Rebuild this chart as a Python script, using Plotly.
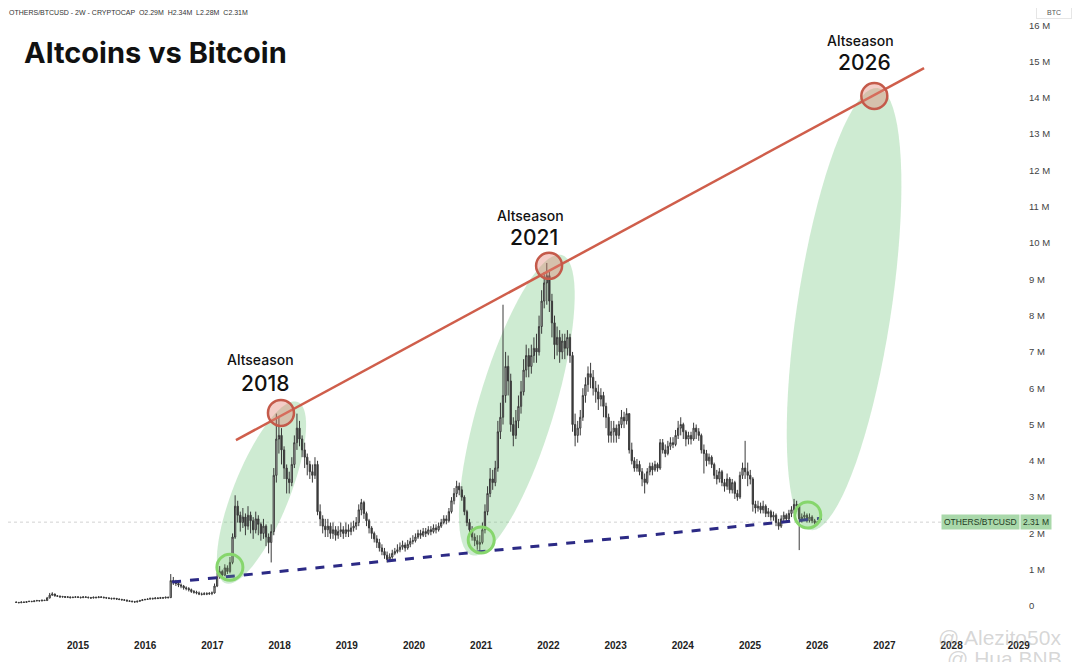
import numpy as np
import plotly.graph_objects as go

# axis ticks
year_ticks = list(range(2015, 2030))
year_labels = [str(y) for y in year_ticks]
price_ticks = list(range(0, 17))
price_labels = ["0"] + [f"{v} M" for v in range(1, 17)]

# OTHERS/BTCUSD, 2W candles, values in millions
start_year = 2014.08
step = 14 / 365.25
first_open = 0.11

close_2014 = [0.10, 0.09, 0.11, 0.10, 0.12, 0.13, 0.12, 0.14, 0.15, 0.14, 0.16, 0.15, 0.22, 0.30, 0.33, 0.28, 0.27, 0.25, 0.26, 0.24, 0.25, 0.23, 0.24, 0.25]
high_2014 = [0.12, 0.11, 0.12, 0.12, 0.13, 0.14, 0.14, 0.15, 0.17, 0.16, 0.17, 0.17, 0.25, 0.36, 0.38, 0.34, 0.30, 0.29, 0.28, 0.27, 0.27, 0.26, 0.26, 0.27]
low_2014 = [0.09, 0.08, 0.08, 0.09, 0.09, 0.11, 0.11, 0.11, 0.13, 0.13, 0.13, 0.14, 0.14, 0.21, 0.28, 0.26, 0.25, 0.23, 0.23, 0.22, 0.22, 0.21, 0.22, 0.22]

close_2015 = [0.24, 0.23, 0.25, 0.24, 0.23, 0.22, 0.24, 0.23, 0.25, 0.24, 0.23, 0.22, 0.21, 0.20, 0.21, 0.19, 0.18, 0.17, 0.16, 0.14, 0.13, 0.12, 0.11, 0.13, 0.15, 0.17]
high_2015 = [0.27, 0.26, 0.27, 0.27, 0.26, 0.25, 0.26, 0.26, 0.27, 0.27, 0.26, 0.25, 0.24, 0.23, 0.23, 0.22, 0.21, 0.20, 0.19, 0.18, 0.16, 0.15, 0.14, 0.15, 0.17, 0.19]
low_2015 = [0.22, 0.21, 0.22, 0.22, 0.21, 0.20, 0.21, 0.21, 0.22, 0.22, 0.21, 0.20, 0.19, 0.18, 0.18, 0.17, 0.16, 0.15, 0.14, 0.12, 0.11, 0.10, 0.09, 0.10, 0.12, 0.14]

close_2016 = [0.18, 0.19, 0.21, 0.20, 0.22, 0.21, 0.23, 0.22, 0.24, 0.23, 0.70, 0.66, 0.62, 0.58, 0.55, 0.50, 0.48, 0.45, 0.40, 0.38, 0.36, 0.33, 0.32, 0.34, 0.33, 0.35]
high_2016 = [0.20, 0.21, 0.23, 0.23, 0.24, 0.24, 0.25, 0.25, 0.26, 0.26, 0.88, 0.80, 0.72, 0.68, 0.62, 0.58, 0.54, 0.52, 0.48, 0.44, 0.42, 0.40, 0.37, 0.38, 0.38, 0.38]
low_2016 = [0.16, 0.17, 0.18, 0.18, 0.19, 0.19, 0.20, 0.20, 0.21, 0.21, 0.22, 0.58, 0.55, 0.52, 0.49, 0.45, 0.43, 0.40, 0.36, 0.34, 0.32, 0.30, 0.29, 0.30, 0.30, 0.31]

close_2017 = [0.36, 0.55, 0.80, 0.95, 0.85, 1.05, 0.95, 1.20, 1.90, 2.75, 2.50, 2.30, 2.45, 2.20, 2.50, 2.35, 2.10, 2.40, 2.25, 2.00, 2.20, 1.90, 1.75, 2.05, 3.60, 4.60]
high_2017 = [0.40, 0.62, 0.92, 1.10, 1.00, 1.15, 1.12, 1.35, 2.00, 3.05, 2.90, 2.60, 2.70, 2.55, 2.75, 2.60, 2.45, 2.60, 2.50, 2.30, 2.40, 2.25, 2.00, 2.25, 3.80, 5.30]
low_2017 = [0.30, 0.34, 0.52, 0.75, 0.78, 0.82, 0.88, 0.90, 1.15, 1.85, 2.30, 2.05, 2.15, 1.95, 2.10, 2.00, 1.85, 2.00, 1.95, 1.80, 1.85, 1.65, 1.45, 1.20, 1.95, 3.40]

close_2018 = [4.70, 4.30, 3.80, 3.50, 3.40, 3.90, 4.50, 4.90, 4.60, 4.30, 4.10, 3.90, 3.70, 3.60, 3.90, 2.60, 2.40, 2.20, 2.10, 2.20, 2.00, 2.10, 1.95, 2.05, 2.10, 2.00]
high_2018 = [5.20, 4.90, 4.40, 3.90, 3.70, 4.10, 4.70, 5.30, 5.10, 4.70, 4.50, 4.20, 4.00, 3.90, 4.10, 4.00, 2.80, 2.50, 2.40, 2.40, 2.30, 2.30, 2.20, 2.20, 2.30, 2.20]
low_2018 = [4.20, 3.90, 3.50, 3.10, 3.10, 3.30, 3.80, 4.30, 4.40, 4.10, 3.80, 3.60, 3.50, 3.40, 3.50, 2.50, 2.20, 2.00, 1.90, 1.90, 1.85, 1.85, 1.80, 1.85, 1.90, 1.85]

close_2019 = [2.10, 2.05, 2.15, 2.20, 2.30, 2.65, 2.85, 2.55, 2.35, 2.15, 2.00, 1.85, 1.75, 1.60, 1.50, 1.40, 1.28, 1.35, 1.45, 1.50, 1.55, 1.62, 1.68, 1.60, 1.70, 1.78]
high_2019 = [2.30, 2.25, 2.30, 2.35, 2.45, 2.80, 2.95, 2.90, 2.60, 2.40, 2.20, 2.05, 1.95, 1.85, 1.70, 1.60, 1.50, 1.45, 1.55, 1.60, 1.70, 1.75, 1.80, 1.75, 1.82, 1.88]
low_2019 = [1.90, 1.90, 1.95, 2.05, 2.10, 2.20, 2.50, 2.40, 2.20, 2.00, 1.85, 1.75, 1.60, 1.50, 1.40, 1.30, 1.20, 1.22, 1.30, 1.40, 1.45, 1.48, 1.55, 1.50, 1.55, 1.62]

close_2020 = [1.80, 1.90, 2.00, 1.95, 2.05, 2.00, 2.10, 2.05, 2.15, 2.10, 2.20, 2.30, 2.40, 2.35, 2.60, 2.90, 3.10, 3.30, 3.20, 3.00, 2.60, 2.30, 2.10, 1.90, 1.80, 1.70]
high_2020 = [1.95, 2.00, 2.10, 2.10, 2.15, 2.15, 2.20, 2.20, 2.25, 2.25, 2.30, 2.40, 2.50, 2.50, 2.70, 3.00, 3.25, 3.45, 3.40, 3.30, 3.05, 2.65, 2.40, 2.20, 2.00, 1.95]
low_2020 = [1.70, 1.75, 1.85, 1.85, 1.90, 1.90, 1.95, 1.95, 2.00, 2.00, 2.05, 2.15, 2.25, 2.25, 2.30, 2.55, 2.80, 3.00, 3.05, 2.90, 2.50, 2.20, 1.95, 1.80, 1.65, 1.55]

close_2021 = [1.75, 2.10, 2.60, 3.10, 3.50, 3.40, 3.80, 4.80, 5.20, 5.80, 6.60, 6.20, 5.00, 4.70, 5.10, 5.50, 5.90, 6.50, 6.90, 6.60, 6.90, 7.10, 7.00, 7.70, 8.40, 8.90]
high_2021 = [1.95, 2.30, 2.80, 3.30, 3.80, 3.75, 4.00, 5.10, 5.60, 8.30, 7.00, 6.90, 6.40, 5.20, 5.40, 5.80, 6.20, 6.80, 7.20, 7.10, 7.20, 7.40, 7.50, 8.00, 8.70, 9.20]
low_2021 = [1.50, 1.70, 2.00, 2.50, 3.00, 3.20, 3.30, 3.70, 4.60, 5.00, 5.60, 5.80, 4.80, 4.40, 4.60, 4.90, 5.30, 5.80, 6.30, 6.30, 6.40, 6.70, 6.70, 6.90, 7.50, 8.20]

close_2022 = [9.10, 8.40, 7.80, 7.20, 7.40, 7.00, 7.30, 7.10, 7.40, 6.90, 5.00, 4.70, 4.90, 5.20, 5.80, 6.10, 6.40, 6.30, 6.00, 5.90, 5.70, 5.80, 5.50, 5.20, 4.70, 4.80]
high_2022 = [9.45, 9.20, 8.60, 8.00, 7.70, 7.60, 7.50, 7.50, 7.60, 7.50, 7.00, 5.30, 5.10, 5.40, 6.00, 6.30, 6.60, 6.70, 6.50, 6.20, 6.10, 6.00, 5.90, 5.60, 5.30, 5.10]
low_2022 = [8.30, 8.10, 7.40, 6.80, 6.90, 6.70, 6.80, 6.80, 6.90, 6.70, 4.80, 4.40, 4.50, 4.70, 5.10, 5.60, 5.90, 6.00, 5.80, 5.60, 5.40, 5.50, 5.20, 4.90, 4.50, 4.50]

close_2023 = [4.90, 4.70, 5.00, 5.20, 5.10, 5.30, 4.30, 4.00, 3.80, 3.90, 3.70, 3.50, 3.40, 3.70, 3.85, 3.75, 3.90, 3.80, 4.50, 4.30, 4.20, 4.40, 4.50, 4.45, 4.70, 4.90]
high_2023 = [5.10, 5.00, 5.10, 5.40, 5.35, 5.45, 5.30, 4.50, 4.10, 4.05, 4.00, 3.80, 3.65, 3.80, 3.95, 3.95, 4.00, 3.95, 4.60, 4.60, 4.45, 4.55, 4.65, 4.65, 4.85, 5.10]
low_2023 = [4.50, 4.50, 4.60, 4.90, 4.90, 5.00, 4.20, 3.90, 3.70, 3.70, 3.60, 3.30, 3.10, 3.35, 3.60, 3.60, 3.70, 3.70, 3.75, 4.20, 4.10, 4.15, 4.30, 4.35, 4.40, 4.60]

close_2024 = [5.00, 4.80, 4.60, 4.70, 4.60, 4.90, 4.80, 4.70, 4.30, 4.20, 4.00, 4.10, 3.90, 3.60, 3.50, 3.70, 3.40, 3.30, 3.50, 3.20, 3.40, 3.10, 3.00, 3.60, 3.80, 3.70]
high_2024 = [5.20, 5.05, 4.85, 4.80, 4.80, 5.05, 5.00, 4.90, 4.75, 4.45, 4.30, 4.20, 4.15, 3.95, 3.75, 3.80, 3.75, 3.50, 3.65, 3.55, 3.50, 3.45, 3.20, 3.70, 3.95, 4.55]
low_2024 = [4.70, 4.60, 4.40, 4.45, 4.45, 4.55, 4.60, 4.55, 4.20, 3.65, 3.85, 3.90, 3.80, 3.50, 3.35, 3.40, 3.30, 3.15, 3.20, 3.10, 3.10, 2.95, 2.90, 2.95, 3.50, 3.50]

close_2025 = [3.60, 3.50, 2.80, 2.70, 2.75, 2.65, 2.75, 2.55, 2.60, 2.45, 2.50, 2.30, 2.20, 2.40, 2.50, 2.40, 2.55, 2.65, 2.80, 2.75, 2.40, 2.45, 2.50, 2.35, 2.45, 2.35, 2.30, 2.31]
high_2025 = [3.95, 3.75, 3.55, 2.90, 2.90, 2.85, 2.90, 2.80, 2.70, 2.65, 2.60, 2.55, 2.40, 2.50, 2.60, 2.55, 2.65, 2.75, 2.95, 2.90, 2.80, 2.55, 2.60, 2.55, 2.55, 2.50, 2.40, 2.34]
low_2025 = [3.30, 3.35, 2.60, 2.55, 2.60, 2.55, 2.55, 2.45, 2.45, 2.35, 2.35, 2.20, 2.10, 2.15, 2.30, 2.30, 2.35, 2.45, 2.55, 2.60, 1.54, 2.30, 2.35, 2.30, 2.30, 2.28, 2.25, 2.28]

closes = (close_2014 + close_2015 + close_2016 + close_2017 + close_2018 + close_2019
          + close_2020 + close_2021 + close_2022 + close_2023 + close_2024 + close_2025)
highs = (high_2014 + high_2015 + high_2016 + high_2017 + high_2018 + high_2019
         + high_2020 + high_2021 + high_2022 + high_2023 + high_2024 + high_2025)
lows = (low_2014 + low_2015 + low_2016 + low_2017 + low_2018 + low_2019
        + low_2020 + low_2021 + low_2022 + low_2023 + low_2024 + low_2025)
opens = [first_open] + closes[:-1]
highs = [max(h, o, c) for h, o, c in zip(highs, opens, closes)]
lows = [min(l, o, c) for l, o, c in zip(lows, opens, closes)]
dates = [start_year + i * step for i in range(len(closes))]
last_price = 2.31

# trend lines
resist_x = [2017.35, 2027.59]
resist_y = [4.57, 14.82]
support_x = [2016.40, 2026.07]
support_y = [0.66, 2.42]

# markers: tops (red) and bottoms (green)
tops_x = [2018.02, 2022.01, 2026.85]
tops_y = [5.32, 9.37, 14.05]
bottoms_x = [2017.26, 2021.00, 2025.86]
bottoms_y = [1.07, 1.82, 2.51]

# rally ellipses: bottom end, top end (data), half width in px
rallies = [
    ((2017.19, 0.63), (2018.27, 5.62), 28),
    ((2020.86, 1.40), (2022.20, 9.67), 38),
    ((2025.90, 2.09), (2026.90, 14.27), 47),
]

season_labels = [("2018", 2017.72, 6.78, 6.12), ("2021", 2021.73, 10.77, 10.14), ("2026", 2026.64, 15.59, 14.96)]

# layout geometry (page body adds an 8px offset)
W, H = 1072, 654
margin = dict(l=0, r=60, t=0, b=32)
x_range = [2013.958, 2029.018]
y_range = [-0.661, 16.474]
sx = (W - margin["l"] - margin["r"]) / (x_range[1] - x_range[0])
sy = (H - margin["t"] - margin["b"]) / (y_range[1] - y_range[0])


def ellipse_path(p0, p1, half_w):
    # build in pixel space, convert back to data units
    a = np.array([p0[0] * sx, p0[1] * sy])
    b = np.array([p1[0] * sx, p1[1] * sy])
    c = (a + b) / 2
    d = b - a
    half_l = np.hypot(*d) / 2
    u = d / np.hypot(*d)
    v = np.array([-u[1], u[0]])
    t = np.linspace(0, 2 * np.pi, 80)
    pts = c[None, :] + np.outer(np.cos(t) * half_l, u) + np.outer(np.sin(t) * half_w, v)
    xs = pts[:, 0] / sx
    ys = pts[:, 1] / sy
    return "M " + " L ".join(f"{x:.4f},{y:.4f}" for x, y in zip(xs, ys)) + " Z"


fig = go.Figure()

fig.add_trace(go.Candlestick(
    x=dates, open=opens, high=highs, low=lows, close=closes,
    increasing=dict(line=dict(color="#3a3a3a", width=1), fillcolor="#cfcfcf"),
    decreasing=dict(line=dict(color="#3a3a3a", width=1), fillcolor="#3a3a3a"),
    whiskerwidth=0, showlegend=False, hoverinfo="skip",
))

fig.add_trace(go.Scatter(x=resist_x, y=resist_y, mode="lines",
                         line=dict(color="#cf5e4b", width=2.5), showlegend=False, hoverinfo="skip"))
fig.add_trace(go.Scatter(x=support_x, y=support_y, mode="lines",
                         line=dict(color="#2c2a85", width=3, dash="dash"), showlegend=False, hoverinfo="skip"))

shapes = []
for p0, p1, hw in rallies:
    shapes.append(dict(type="path", path=ellipse_path(p0, p1, hw), xref="x", yref="y",
                       fillcolor="rgba(120,200,130,0.36)", line=dict(width=0), layer="below"))

# last price dotted line
shapes.append(dict(type="line", xref="paper", yref="y", x0=0, x1=1, y0=last_price, y1=last_price,
                   line=dict(color="#d2d2d2", width=1, dash="dot"), layer="below"))

for cx, cy in zip(tops_x, tops_y):
    shapes.append(dict(type="circle", xref="x", yref="y", xsizemode="pixel", ysizemode="pixel",
                       xanchor=cx, yanchor=cy, x0=-13, x1=13, y0=-13, y1=13,
                       fillcolor="rgba(225,130,115,0.40)", line=dict(color="#c45a4a", width=2.5), layer="above"))
for cx, cy in zip(bottoms_x, bottoms_y):
    shapes.append(dict(type="circle", xref="x", yref="y", xsizemode="pixel", ysizemode="pixel",
                       xanchor=cx, yanchor=cy, x0=-13, x1=13, y0=-13, y1=13,
                       fillcolor="rgba(150,220,130,0.18)", line=dict(color="#86d66c", width=3), layer="above"))

annotations = [
    dict(text="OTHERS/BTCUSD - 2W - CRYPTOCAP  O2.29M  H2.34M  L2.28M  C2.31M", xref="paper", yref="paper",
         x=-0.001, y=1, xanchor="left", yanchor="top", yshift=1, showarrow=False,
         font=dict(family="Liberation Sans", size=7, color="#333333")),
    dict(text="<b>Altcoins vs Bitcoin</b>", xref="paper", yref="paper", x=0.0135, y=0.929,
         xanchor="left", yanchor="middle", showarrow=False,
         font=dict(family="Inter", size=29, color="#111111")),
    dict(text="BTC", xref="paper", yref="paper", x=1.034, y=0.992, xanchor="center", yanchor="middle",
         showarrow=False, bgcolor="#ffffff", bordercolor="#e6e6e6", borderwidth=1, borderpad=2,
         width=30, font=dict(family="Liberation Sans", size=7, color="#555555")),
    dict(text="OTHERS/BTCUSD", xref="paper", yref="y", x=1, y=last_price, xanchor="right", yanchor="middle",
         showarrow=False, bgcolor="#a9d8aa", borderpad=2, font=dict(family="Liberation Sans", size=8.5, color="#1f3a1f")),
    dict(text="2.31 M", xref="paper", yref="y", x=1, y=last_price, xanchor="left", yanchor="middle",
         showarrow=False, bgcolor="#a9d8aa", borderpad=2, font=dict(family="Liberation Sans", size=8.5, color="#1f3a1f")),
    dict(text="@ Alezito50x", xref="paper", yref="paper", x=0.980, y=-0.012, xanchor="center", yanchor="middle",
         showarrow=False, font=dict(family="Liberation Sans", size=21, color="rgba(165,165,165,0.45)")),
    dict(text="@ Hua BNB", xref="paper", yref="paper", x=0.985, y=-0.046, xanchor="center", yanchor="middle",
         showarrow=False, font=dict(family="Liberation Sans", size=21, color="rgba(165,165,165,0.45)")),
]
for year_txt, lx, y_top, y_year in season_labels:
    annotations.append(dict(text="Altseason", x=lx, y=y_top, xref="x", yref="y", showarrow=False,
                            font=dict(family="Inter", size=14, color="#111111", weight=500)))
    annotations.append(dict(text=year_txt, x=lx + 0.06, y=y_year, xref="x", yref="y", showarrow=False,
                            font=dict(family="Inter", size=21, color="#111111", weight=500)))

fig.update_layout(
    width=W, height=H, margin=margin,
    paper_bgcolor="white", plot_bgcolor="white",
    shapes=shapes, annotations=annotations, showlegend=False,
    xaxis=dict(range=x_range, tickvals=year_ticks, ticktext=year_labels, showgrid=False, zeroline=False,
               rangeslider=dict(visible=False), ticks="", ticklabelstandoff=8,
               tickfont=dict(family="Liberation Sans", size=10, color="#222222", weight="bold")),
    yaxis=dict(range=y_range, side="right", tickvals=price_ticks, ticktext=price_labels, showgrid=False,
               zeroline=False, ticks="", ticklabelstandoff=8,
               tickfont=dict(family="Liberation Sans", size=9.5, color="#444444")),
)

fig.write_html("out.html")
